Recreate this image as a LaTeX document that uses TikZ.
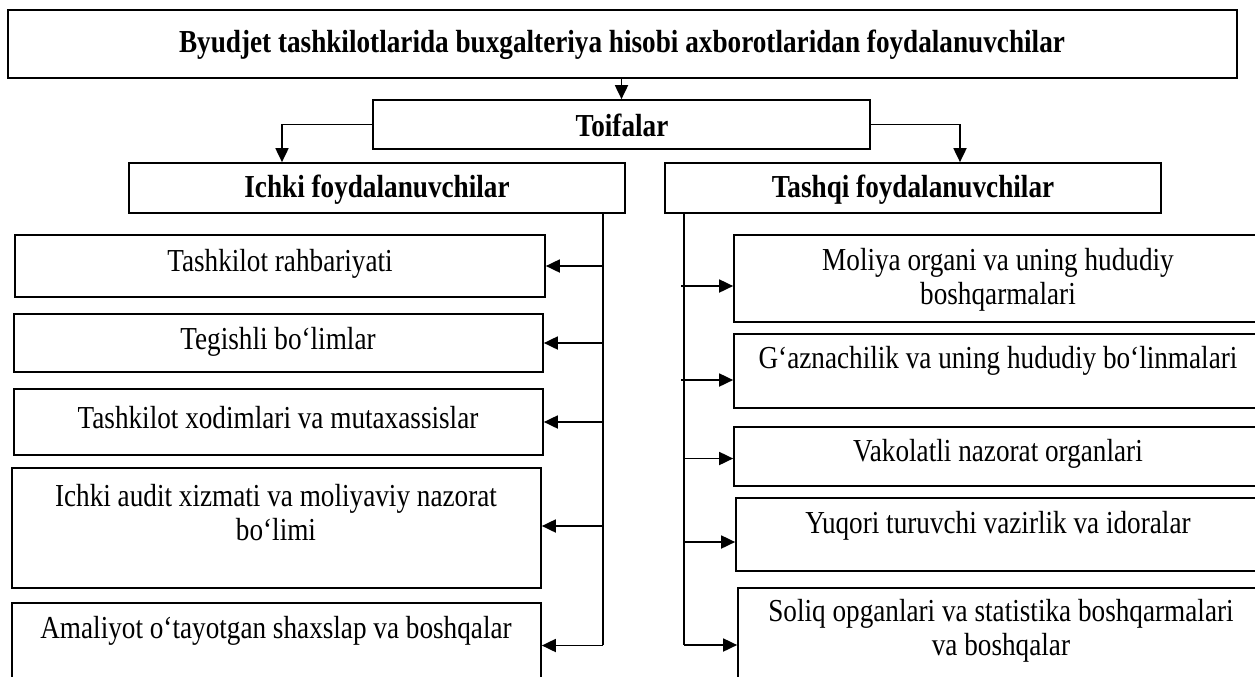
\documentclass[tikz,border=0pt]{standalone}
\usepackage{fontspec}
\setmainfont{Liberation Serif}[FakeStretch=0.85]
\usetikzlibrary{arrows.meta,fit}
\begin{document}
\begin{tikzpicture}[x=0.5pt,y=-0.5pt,
 box/.style={draw,line width=0.85pt,inner sep=0pt,rectangle},
 txt/.style={font=\fontsize{16}{17}\selectfont, align=center, inner sep=0pt},
 txtb/.style={font=\fontsize{16}{17}\selectfont\bfseries, align=center, inner sep=0pt},
 conn/.style={line width=0.9pt},
 arr/.style={conn,-{Triangle[length=7pt,width=6.5pt]}}]
\useasboundingbox (0,0) rectangle (1255,676);
\clip (0,0) rectangle (1255,676);
% top levels
\node[box,fit={(8,10)(1237,78)}] (top) {};
\node[txtb] at (622,45) {Byudjet tashkilotlarida buxgalteriya hisobi axborotlaridan foydalanuvchilar};
\node[box,fit={(373,100)(870,149)}] (toif) {};
\node[txtb] at (622,125) {Toifalar};
\node[box,fit={(129,163)(625,213)}] (ichki) {};
\node[txtb] at (377,190) {Ichki foydalanuvchilar};
\node[box,fit={(665,163)(1161,213)}] (tashqi) {};
\node[txtb] at (913,190) {Tashqi foydalanuvchilar};
% left boxes
\node[box,fit={(15,235)(545,297)}] (L1) {};
\node[txt] at (280,264) {Tashkilot rahbariyati};
\node[box,fit={(14,314)(543,372)}] (L2) {};
\node[txt] at (278,342) {Tegishli bo‘limlar};
\node[box,fit={(14,389)(543,455)}] (L3) {};
\node[txt] at (278,418) {Tashkilot xodimlari va mutaxassislar};
\node[box,fit={(12,468)(541,588)}] (L4) {};
\node[txt] at (276,513) {Ichki audit xizmati va moliyaviy nazorat\\bo‘limi};
\node[box,fit={(12,603)(541,688)}] (L5) {};
\node[txt] at (276,631) {Amaliyot o‘tayotgan shaxslap va boshqalar};
% right boxes
\node[box,fit={(734,235)(1262,322)}] (R1) {};
\node[txt] at (998,280) {Moliya organi va uning hududiy\\boshqarmalari};
\node[box,fit={(734,334)(1262,408)}] (R2) {};
\node[txt] at (998,361) {G‘aznachilik va uning hududiy bo‘linmalari};
\node[box,fit={(734,427)(1262,486)}] (R3) {};
\node[txt] at (998,454) {Vakolatli nazorat organlari};
\node[box,fit={(736,498)(1262,571)}] (R4) {};
\node[txt] at (998,526) {Yuqori turuvchi vazirlik va idoralar};
\node[box,fit={(738,588)(1262,702)}] (R5) {};
\node[txt] at (1001,631) {Soliq opganlari va statistika boshqarmalari\\va boshqalar};
% connectors
\coordinate (kl) at (282,0);
\coordinate (kr) at (960,0);
\coordinate (vl) at (603,645);
\coordinate (vr) at (684,645);
\draw[arr] (top.south -| toif.north) -- (toif.north);
\draw[arr] (toif.west) -| (kl |- ichki.north);
\draw[arr] (toif.east) -| (kr |- tashqi.north);
\draw[conn] (ichki.south -| vl) -- (vl);
\draw[conn] (tashqi.south -| vr) -- (vr);
\draw[arr] (vl |- L1.east) -- (L1.east);
\draw[arr] (vl |- L2.east) -- (L2.east);
\draw[arr] (vl |- L3.east) -- (L3.east);
\draw[arr] ([yshift=1pt]vl |- L4.east) -- ([yshift=1pt]L4.east);
\draw[arr] (vl |- L5.east) -- (L5.east);
\draw[arr] ([xshift=-1.5pt,yshift=-3.75pt]vr |- R1.west) -- ([yshift=-3.75pt]R1.west);
\draw[arr] ([xshift=-1.5pt,yshift=-4.5pt]vr |- R2.west) -- ([yshift=-4.5pt]R2.west);
\draw[arr] ([yshift=-1pt]vr |- R3.west) -- ([yshift=-1pt]R3.west);
\draw[arr] ([yshift=-3.75pt]vr |- R4.west) -- ([yshift=-3.75pt]R4.west);
\draw[arr] (vr |- R5.west) -- (R5.west);
\end{tikzpicture}
\end{document}
